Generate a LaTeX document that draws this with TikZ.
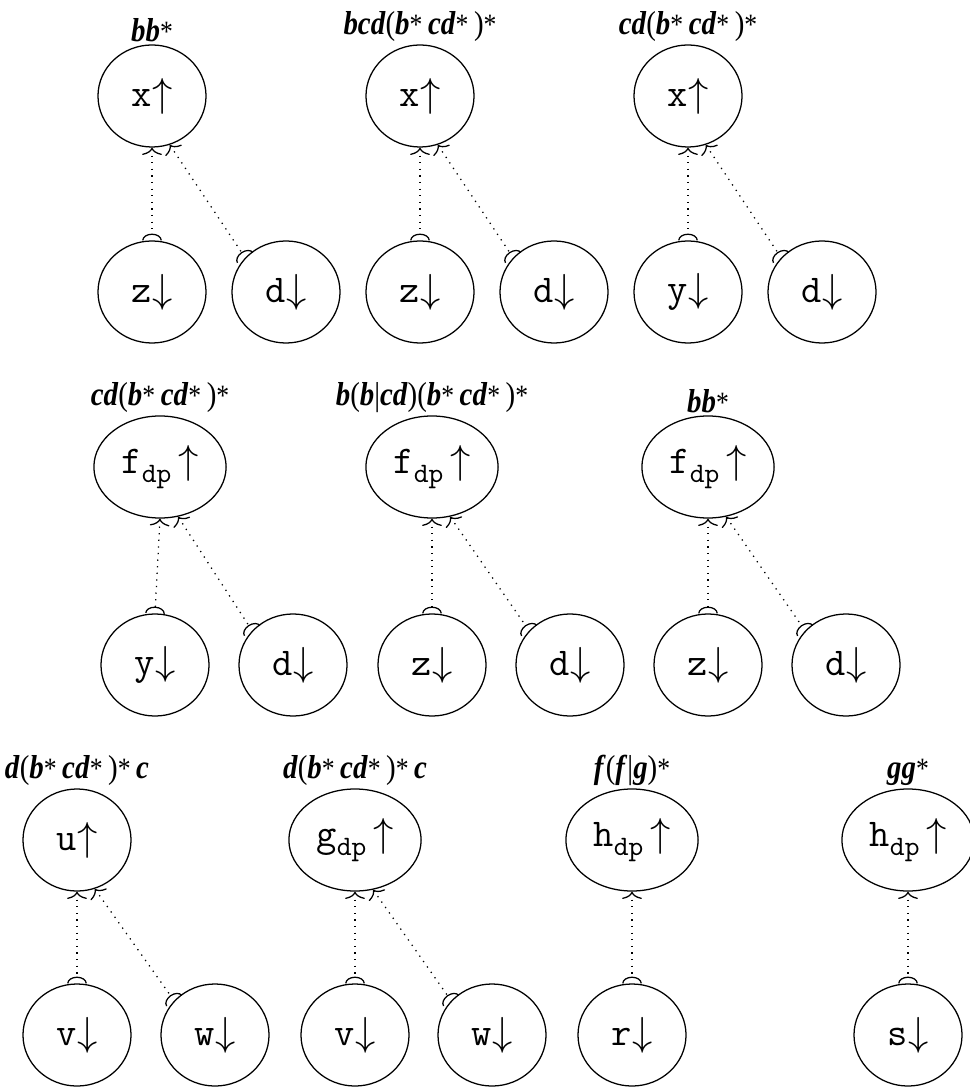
\documentclass[tikz,border=0pt]{standalone}
\usepackage{fontspec}
\usepackage{tikz}
\usetikzlibrary{arrows.meta,shapes.geometric}
\newfontfamily\labfont[FakeStretch=0.87]{Liberation Serif}
\newcommand{\bi}[1]{\textbf{\textit{#1}}}
\newcommand{\kst}{{\upshape\mdseries\fontsize{10.5}{10}\selectfont *}}
\tikzset{vert/.style={ellipse,draw,line width=0.45pt,minimum width=1.35cm,
                      minimum height=1.275cm,inner sep=3pt,
                      font=\fontsize{14}{16}\selectfont},
         lbl/.style={inner sep=0.8pt,font=\labfont\fontsize{11.8}{13}\selectfont},
         dep/.style={line width=0.45pt,dash pattern=on 0.45pt off 1.9pt,
                     {Computer Modern Rightarrow[length=2.6pt,width=7pt,line width=0.45pt]}-{Arc Barb[reversed,length=2.4pt,width=7pt,line width=0.45pt]}}}
\newcommand{\up}[1]{\texttt{#1}$\uparrow$}
\newcommand{\dn}[1]{\texttt{#1}$\downarrow$}
\newcommand{\dpup}[1]{\texttt{#1}\raisebox{-3pt}{\fontsize{10}{10}\selectfont\texttt{dp}}\,$\uparrow$}

\begin{document}
\begin{tikzpicture}[x=0.0125cm,y=-0.0125cm]
\useasboundingbox (0,0) rectangle (969,1088);
% row 1
\node[vert,label={[lbl]above:\bi{bb}\kst}] (xa) at (152,96) {\up{x}};
\node[vert] (za) at (152,292) {\dn{z}};
\node[vert] (da) at (286,292) {\dn{d}};
\node[vert,label={[lbl]above:\bi{bcd}(\bi{b}\kst\,\bi{cd}\kst\,)\kst}] (xb) at (420,96) {\up{x}};
\node[vert] (zb) at (420,292) {\dn{z}};
\node[vert] (db) at (554,292) {\dn{d}};
\node[vert,label={[lbl]above:\bi{cd}(\bi{b}\kst\,\bi{cd}\kst\,)\kst}] (xc) at (688,96) {\up{x}};
\node[vert] (yc) at (688,292) {\dn{y}};
\node[vert] (dc) at (822,292) {\dn{d}};
% row 2
\node[vert,label={[lbl]above:\bi{cd}(\bi{b}\kst\,\bi{cd}\kst\,)\kst}] (fa) at (160,467) {\dpup{f}};
\node[vert] (ya) at (155,665) {\dn{y}};
\node[vert] (dd) at (293,665) {\dn{d}};
\node[vert,label={[lbl]above:\bi{b}(\bi{b}|\bi{cd})(\bi{b}\kst\,\bi{cd}\kst\,)\kst}] (fb) at (432,467) {\dpup{f}};
\node[vert] (zd) at (432,665) {\dn{z}};
\node[vert] (de) at (570,665) {\dn{d}};
\node[vert,label={[lbl]above:\bi{bb}\kst}] (fc) at (708,467) {\dpup{f}};
\node[vert] (ze) at (708,665) {\dn{z}};
\node[vert] (df) at (846,665) {\dn{d}};
% row 3
\node[vert,label={[lbl]above:\bi{d}(\bi{b}\kst\,\bi{cd}\kst\,)\kst\,\bi{c}}] (ua) at (77,840) {\up{u}};
\node[vert] (va) at (77,1035) {\dn{v}};
\node[vert] (wa) at (215,1035) {\dn{w}};
\node[vert,label={[lbl]above:\bi{d}(\bi{b}\kst\,\bi{cd}\kst\,)\kst\,\bi{c}}] (ga) at (355,840) {\dpup{g}};
\node[vert] (vb) at (355,1035) {\dn{v}};
\node[vert] (wb) at (492,1035) {\dn{w}};
\node[vert,label={[lbl]above:\bi{f}(\bi{f}|\bi{g})\kst}] (ha) at (632,840) {\dpup{h}};
\node[vert] (ra) at (632,1035) {\dn{r}};
\node[vert,label={[lbl]above:\bi{gg}\kst}] (hb) at (908,840) {\dpup{h}};
\node[vert] (sa) at (908,1035) {\dn{s}};
% dependencies
\foreach \p/\a/\b in {xa/za/da,xb/zb/db,xc/yc/dc,fa/ya/dd,fb/zd/de,fc/ze/df,ua/va/wa,ga/vb/wb}{
  \draw[dep] (\p.south) -- (\a.north);
  \draw[dep] (\p.-70) -- (\b.140);
}
\draw[dep] (ha.south) -- (ra.north);
\draw[dep] (hb.south) -- (sa.north);
\end{tikzpicture}
\end{document}
